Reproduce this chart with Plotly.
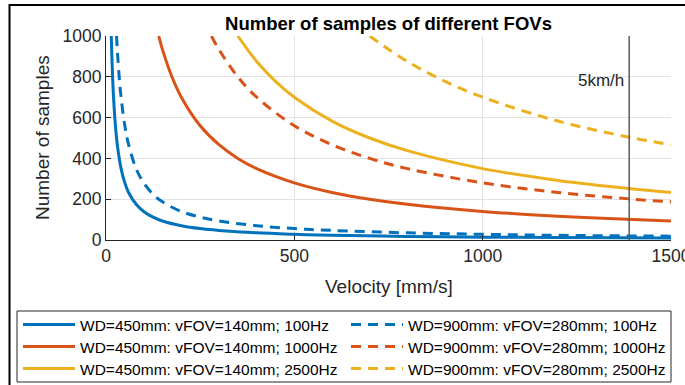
import plotly.graph_objects as go

# ---- data ----
v_blue_solid = [14, 16, 18, 20, 25, 30, 40, 50, 60, 80, 100, 125, 150, 200, 250, 300, 400, 500, 600, 800, 1000, 1200, 1500]
n_blue_solid = [1000, 875, 778, 700, 560, 467, 350, 280, 233, 175, 140, 112, 93, 70, 56, 47, 35, 28, 23, 17.5, 14, 11.7, 9.3]

v_blue_dash = [28, 30, 35, 40, 50, 60, 80, 100, 125, 150, 200, 250, 300, 400, 500, 600, 800, 1000, 1200, 1500]
n_blue_dash = [1000, 933, 800, 700, 560, 467, 350, 280, 224, 187, 140, 112, 93, 70, 56, 47, 35, 28, 23, 18.7]

v_orange_solid = [140, 150, 175, 200, 250, 300, 350, 400, 500, 600, 700, 800, 1000, 1200, 1400, 1500]
n_orange_solid = [1000, 933, 800, 700, 560, 467, 400, 350, 280, 233, 200, 175, 140, 117, 100, 93]

v_orange_dash = [280, 300, 350, 400, 500, 600, 700, 800, 1000, 1200, 1400, 1500]
n_orange_dash = [1000, 933, 800, 700, 560, 467, 400, 350, 280, 233, 200, 187]

v_yellow_solid = [350, 400, 450, 500, 600, 700, 800, 1000, 1200, 1400, 1500]
n_yellow_solid = [1000, 875, 778, 700, 583, 500, 438, 350, 292, 250, 233]

v_yellow_dash = [700, 800, 900, 1000, 1200, 1400, 1500]
n_yellow_dash = [1000, 875, 778, 700, 583, 500, 467]

labels = [
    "WD=450mm: vFOV=140mm; 100Hz",
    "WD=900mm: vFOV=280mm; 100Hz",
    "WD=450mm: vFOV=140mm; 1000Hz",
    "WD=900mm: vFOV=280mm; 1000Hz",
    "WD=450mm: vFOV=140mm; 2500Hz",
    "WD=900mm: vFOV=280mm; 2500Hz",
]
speed_5kmh = 1389
x_ticks = [0, 500, 1000, 1500]
y_ticks = [0, 200, 400, 600, 800, 1000]

BLUE, ORANGE, YELLOW = "#0072BD", "#D95319", "#EDB120"
FONT = "Arial"
DASH = "10px,7px"

series = [
    (v_blue_solid, n_blue_solid, BLUE, "solid", "legend"),
    (v_blue_dash, n_blue_dash, BLUE, DASH, "legend"),
    (v_orange_solid, n_orange_solid, ORANGE, "solid", "legend2"),
    (v_orange_dash, n_orange_dash, ORANGE, DASH, "legend2"),
    (v_yellow_solid, n_yellow_solid, YELLOW, "solid", "legend3"),
    (v_yellow_dash, n_yellow_dash, YELLOW, DASH, "legend3"),
]

fig = go.Figure()
for (xv, yv, col, dash, leg), name in zip(series, labels):
    fig.add_trace(go.Scatter(
        x=xv, y=yv, mode="lines", name=name, legend=leg,
        line=dict(color=col, width=3, dash=dash, shape="spline", smoothing=1.0),
    ))

fig.add_shape(type="line", xref="x", yref="paper", x0=speed_5kmh, x1=speed_5kmh, y0=0, y1=1,
              line=dict(color="#5a5a5a", width=1.5))
fig.add_annotation(x=speed_5kmh, y=780, xref="x", yref="y", text="5km/h", showarrow=False,
                   xanchor="right", yanchor="middle", xshift=-3,
                   font=dict(family=FONT, size=17, color="#262626"))

# axis titles
fig.add_annotation(x=0.5, y=(240 - 286) / 204, xref="paper", yref="paper", text="Velocity [mm/s]",
                   showarrow=False, xanchor="center", yanchor="middle",
                   font=dict(family=FONT, size=19, color="#262626"))
fig.add_annotation(x=(42 - 106) / 565, y=0.5, xref="paper", yref="paper", text="Number of samples",
                   showarrow=False, xanchor="center", yanchor="middle", textangle=-90,
                   font=dict(family=FONT, size=19, color="#262626"))

# outer figure frame
fig.add_shape(type="rect", xref="paper", yref="paper",
              x0=(9.5 - 106) / 565, x1=(720 - 106) / 565,
              y0=(240 - 420) / 204, y1=(240 - 5) / 204,
              line=dict(color="black", width=2), fillcolor="rgba(0,0,0,0)", layer="above")
# legend box frame
fig.add_shape(type="rect", xref="paper", yref="paper",
              x0=(17 - 106) / 565, x1=(671 - 106) / 565,
              y0=(240 - 382) / 204, y1=(240 - 311) / 204,
              line=dict(color="#262626", width=1), fillcolor="rgba(0,0,0,0)", layer="below")

axis_common = dict(
    showgrid=True, gridcolor="#e3e3e3", gridwidth=1,
    showline=True, linecolor="#262626", linewidth=1,
    ticks="inside", ticklen=5, tickcolor="#262626",
    tickfont=dict(family=FONT, size=17.5, color="#262626"),
    zeroline=False, ticklabeloverflow="allow",
)


def legend_row(center_px):
    return dict(
        orientation="h", x=(18 - 106) / 565, y=(240 - center_px) / 204,
        xanchor="left", yanchor="middle",
        borderwidth=0, bgcolor="rgba(0,0,0,0)",
        font=dict(family=FONT, size=15.5, color="black"),
        itemwidth=52, entrywidth=261, entrywidthmode="pixels", tracegroupgap=0,
    )


fig.update_layout(
    width=685, height=385,
    margin=dict(l=106, r=14, t=36, b=145, autoexpand=False),
    paper_bgcolor="white", plot_bgcolor="white",
    title=dict(text="<b>Number of samples of different FOVs</b>", x=0.5,
               xref="paper", y=1 - 24 / 385, yref="container", xanchor="center", yanchor="middle",
               font=dict(family=FONT, size=18.5, color="black")),
    xaxis=dict(range=[0, 1500], tickvals=x_ticks, **axis_common),
    yaxis=dict(range=[0, 1000], tickvals=y_ticks, **axis_common),
    showlegend=True,
    legend=legend_row(325),
    legend2=legend_row(347),
    legend3=legend_row(369),
)

fig.write_html("out.html")
